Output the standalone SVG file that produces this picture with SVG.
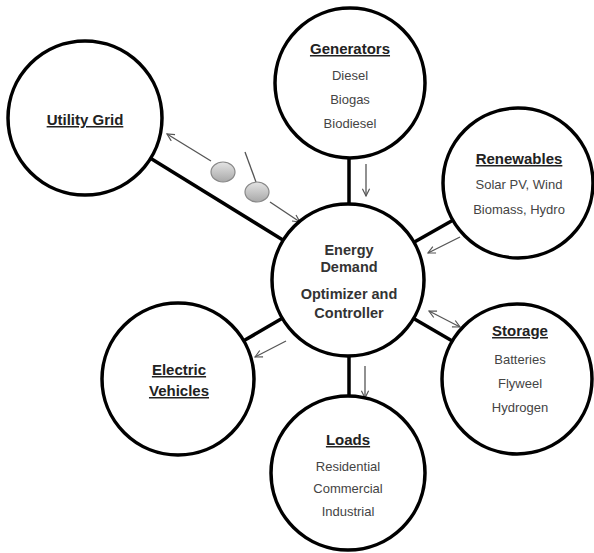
<svg xmlns="http://www.w3.org/2000/svg" width="594" height="553" viewBox="0 0 594 553">
<style>
.node{fill:#fff;stroke:#000;stroke-width:3.5}
.link{stroke:#000;stroke-width:3.5;fill:none}
.arr{stroke:#555;stroke-width:1.3;fill:none}
.t{font-family:"Liberation Sans",Arial,sans-serif;font-weight:bold;font-size:15px;fill:#222;text-anchor:middle;text-decoration:underline}
.c{font-family:"Liberation Sans",Arial,sans-serif;font-weight:bold;font-size:14.5px;fill:#333;text-anchor:middle}
.s{font-family:"Liberation Sans",Arial,sans-serif;font-size:13px;fill:#444;text-anchor:middle}
</style>
<defs>
<marker id="ah" viewBox="0 0 10 10" refX="9" refY="5" markerWidth="9" markerHeight="9" markerUnits="userSpaceOnUse" orient="auto-start-reverse">
<path d="M1,1 L9,5 L1,9" fill="none" stroke="#555" stroke-width="1.3"/>
</marker>
<linearGradient id="g" x1="0" y1="0" x2="0" y2="1">
<stop offset="0" stop-color="#e4e4e4"/>
<stop offset="1" stop-color="#a8a8a8"/>
</linearGradient>
</defs>
<g id="connectors">
<line class="link" x1="150.5" y1="158.3" x2="283.3" y2="240.2"/>
<line class="link" x1="349" y1="157" x2="349" y2="205" stroke-width="5"/>
<line class="link" x1="452.8" y1="220.2" x2="414" y2="242.3"/>
<line class="link" x1="452.3" y1="341.1" x2="413.6" y2="318.4"/>
<line class="link" x1="243.7" y1="340.8" x2="282.3" y2="318.2"/>
<line class="link" x1="349" y1="355" x2="349" y2="397"/>
<line class="arr" x1="211" y1="161" x2="167" y2="134" marker-end="url(#ah)"/>
<line class="arr" x1="270" y1="202" x2="300" y2="222" marker-end="url(#ah)"/>
<line class="arr" x1="245" y1="152" x2="256" y2="182" stroke="#666"/>
<ellipse cx="223" cy="172" rx="12" ry="10" fill="url(#g)" stroke="#888" stroke-width="1.2"/>
<ellipse cx="257" cy="192" rx="12" ry="10" fill="url(#g)" stroke="#888" stroke-width="1.2"/>
<line class="arr" x1="366" y1="164" x2="366" y2="196" marker-end="url(#ah)"/>
<line class="arr" x1="460" y1="237" x2="428" y2="253" marker-end="url(#ah)"/>
<line class="arr" x1="429" y1="311" x2="460" y2="327" marker-start="url(#ah)" marker-end="url(#ah)"/>
<line class="arr" x1="286" y1="341" x2="255" y2="357" marker-end="url(#ah)"/>
<line class="arr" x1="365" y1="366" x2="365" y2="398" marker-end="url(#ah)"/>
</g>
<g id="utility">
<circle class="node" cx="85" cy="118" r="77"/>
<text class="t" x="85" y="125">Utility Grid</text>
</g>
<g id="generators">
<circle class="node" cx="350" cy="83" r="75"/>
<text class="t" x="350" y="54">Generators</text>
<text class="s" x="350" y="80">Diesel</text>
<text class="s" x="350" y="104">Biogas</text>
<text class="s" x="350" y="128">Biodiesel</text>
</g>
<g id="renewables">
<circle class="node" cx="518" cy="183" r="75"/>
<text class="t" x="519" y="164">Renewables</text>
<text class="s" x="519" y="189">Solar PV, Wind</text>
<text class="s" x="519" y="214">Biomass, Hydro</text>
</g>
<g id="center">
<circle class="node" cx="348" cy="280" r="76"/>
<text class="c" x="349" y="255">Energy</text>
<text class="c" x="349" y="272">Demand</text>
<text class="c" x="349" y="299">Optimizer and</text>
<text class="c" x="349" y="318">Controller</text>
</g>
<g id="storage">
<circle class="node" cx="517" cy="379" r="75"/>
<text class="t" x="520" y="336">Storage</text>
<text class="s" x="520" y="364">Batteries</text>
<text class="s" x="520" y="388">Flyweel</text>
<text class="s" x="520" y="412">Hydrogen</text>
</g>
<g id="ev">
<circle class="node" cx="178" cy="379" r="76"/>
<text class="t" x="179" y="375">Electric</text>
<text class="t" x="179" y="396">Vehicles</text>
</g>
<g id="loads">
<circle class="node" cx="348" cy="473" r="77"/>
<text class="t" x="348" y="445">Loads</text>
<text class="s" x="348" y="471">Residential</text>
<text class="s" x="348" y="493">Commercial</text>
<text class="s" x="348" y="516">Industrial</text>
</g>
</svg>
